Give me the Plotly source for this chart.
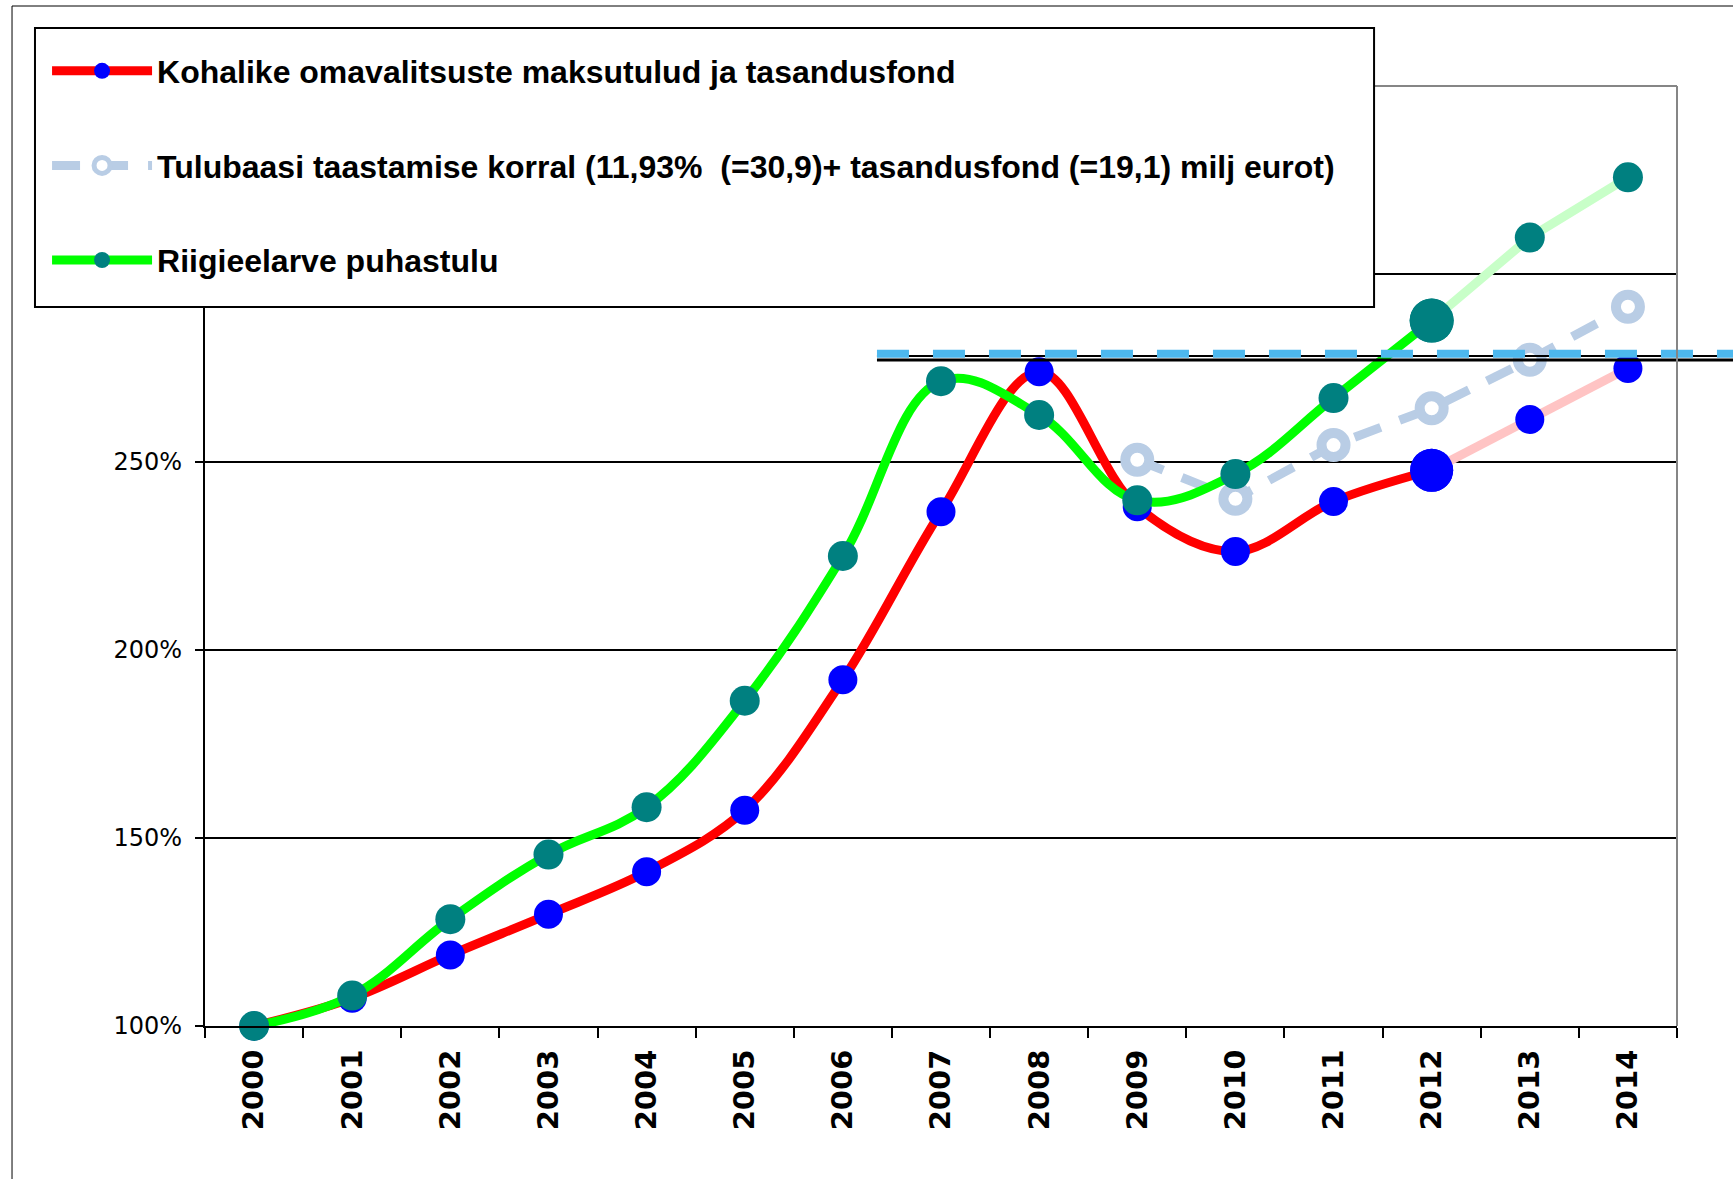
import plotly.graph_objects as go

# ---------------- data ----------------
years = ["2000", "2001", "2002", "2003", "2004", "2005", "2006", "2007",
         "2008", "2009", "2010", "2011", "2012", "2013", "2014"]

kov_values = [100.0, 107.4, 118.9, 129.7, 141.0, 157.4, 192.1, 236.8,
              274.0, 238.1, 226.2, 239.5, 247.8, 261.3, 274.9]

riik_values = [100.0, 108.1, 128.4, 145.6, 158.2, 186.5, 225.0, 271.5,
               262.5, 239.8, 246.8, 267.0, 287.6, 309.7, 325.7]

tulubaas_years = ["2009", "2010", "2011", "2012", "2013", "2014"]
tulubaas_values = [250.6, 240.2, 254.5, 264.3, 277.2, 291.3]

reference_levels = [277.1, 278.2, 278.8]   # two black lines + dashed blue line

y_ticks = [100, 150, 200, 250, 300]
y_tick_labels = ["100%", "150%", "200%", "250%", ""]   # 300% is hidden behind the legend box

name_kov = "Kohalike omavalitsuste maksutulud ja tasandusfond"
name_tul = "Tulubaasi taastamise korral (11,93%  (=30,9)+ tasandusfond (=19,1) milj eurot)"
name_riik = "Riigieelarve puhastulu"

forecast_from = "2012"   # actual data end; later years are faded

# ---------------- styles ----------------
RED = "#FF0000"
PINK = "#FFC4C4"
BLUE = "#0000FF"
GREEN = "#00FF00"
LIGHTGREEN = "#C8FFC8"
TEAL = "#008080"
STEEL = "#B9CDE5"
SKY = "#4DB8EE"

LINE_W = 9
MARK = 29
BIG = 43

split = years.index(forecast_from)
sizes_actual = [BIG if y == forecast_from else MARK for y in years[:split + 1]]
sizes_fore = [BIG if y == forecast_from else MARK for y in years[split:]]

fig = go.Figure()

# red / blue series
fig.add_trace(go.Scatter(
    x=years[:split + 1], y=kov_values[:split + 1], name=name_kov,
    mode="lines+markers", legendgroup="kov", cliponaxis=False,
    line=dict(color=RED, width=LINE_W, shape="spline", smoothing=1.0),
    marker=dict(color=BLUE, size=sizes_actual, opacity=1, line=dict(width=0)),
))
fig.add_trace(go.Scatter(
    x=years[split:], y=kov_values[split:], name=name_kov,
    mode="lines+markers", legendgroup="kov", showlegend=False, cliponaxis=False,
    line=dict(color=PINK, width=LINE_W),
    marker=dict(color=BLUE, size=sizes_fore, opacity=1, line=dict(width=0)),
))

# light steel blue dashed series
fig.add_trace(go.Scatter(
    x=tulubaas_years, y=tulubaas_values, name=name_tul,
    mode="lines+markers", legendgroup="tul", cliponaxis=False,
    line=dict(color=STEEL, width=LINE_W, dash="28px,20px"),
    marker=dict(color="white", size=24, opacity=1, line=dict(color=STEEL, width=10)),
))

# green / teal series
fig.add_trace(go.Scatter(
    x=years[:split + 1], y=riik_values[:split + 1], name=name_riik,
    mode="lines+markers", legendgroup="riik", cliponaxis=False,
    line=dict(color=GREEN, width=LINE_W, shape="spline", smoothing=1.1),
    marker=dict(color=TEAL, size=[s + 1 for s in sizes_actual], opacity=1, line=dict(width=0)),
))
fig.add_trace(go.Scatter(
    x=years[split:], y=riik_values[split:], name=name_riik,
    mode="lines+markers", legendgroup="riik", showlegend=False, cliponaxis=False,
    line=dict(color=LIGHTGREEN, width=LINE_W),
    marker=dict(color=TEAL, size=[s + 1 for s in sizes_fore], opacity=1, line=dict(width=0)),
))

# ---------------- shapes ----------------
shapes = []
# reference lines (start at ~2006.35, run to right edge of picture)
ref_x0, ref_x1 = 0.4565, 1.04
shapes.append(dict(type="line", xref="paper", yref="y", x0=ref_x0, x1=ref_x1,
                   y0=reference_levels[0], y1=reference_levels[0],
                   line=dict(color="black", width=3), layer="above"))
shapes.append(dict(type="line", xref="paper", yref="y", x0=ref_x0, x1=ref_x1,
                   y0=reference_levels[1], y1=reference_levels[1],
                   line=dict(color="black", width=2), layer="above"))
shapes.append(dict(type="line", xref="paper", yref="y", x0=ref_x0, x1=ref_x1,
                   y0=reference_levels[2], y1=reference_levels[2],
                   line=dict(color=SKY, width=8, dash="32px,24px"), layer="above"))
# plot frame right/top (grey)
shapes.append(dict(type="line", xref="paper", yref="paper", x0=1, x1=1, y0=0, y1=1,
                   line=dict(color="#868686", width=2), layer="above"))
shapes.append(dict(type="line", xref="paper", yref="paper", x0=0, x1=1, y0=1, y1=1,
                   line=dict(color="#868686", width=2), layer="above"))
# outer slide frame (top + left)
shapes.append(dict(type="line", xref="paper", yref="paper", x0=-0.1311, x1=1.05,
                   y0=1.0851, y1=1.0851, line=dict(color="black", width=1), layer="above"))
shapes.append(dict(type="line", xref="paper", yref="paper", x0=-0.1311, x1=-0.1311,
                   y0=1.0851, y1=-0.17, line=dict(color="black", width=1), layer="above"))
# legend frame (opaque white box)
shapes.append(dict(type="rect", xref="paper", yref="paper",
                   x0=-0.1155, x1=0.7942, y0=0.7648, y1=1.0617,
                   fillcolor="white", line=dict(color="black", width=2), layer="above"))

fig.update_layout(
    width=1733, height=1179, autosize=False,
    margin=dict(l=205, r=56, t=86, b=153),
    paper_bgcolor="white", plot_bgcolor="white",
    shapes=shapes,
    showlegend=True,
    legend=dict(
        x=-0.1073, y=1.0452, xanchor="left", yanchor="top",
        bgcolor="rgba(0,0,0,0)", borderwidth=0,
        font=dict(family="Liberation Sans, Arial", size=32, color="black", weight="bold"),
        itemwidth=100, tracegroupgap=50, traceorder="grouped",
        itemsizing="trace",
    ),
    xaxis=dict(
        type="category", range=[-0.5, 14.5], categoryorder="array", categoryarray=years,
        showline=True, linecolor="black", linewidth=2,
        ticks="outside", tickson="boundaries", ticklen=10, tickwidth=2, tickcolor="black",
        tickangle=-90, ticklabelstandoff=10,
        tickfont=dict(family="DejaVu Sans", size=29, color="black", weight="bold"),
        showgrid=False, zeroline=False,
    ),
    yaxis=dict(
        range=[100, 350], tickmode="array", tickvals=y_ticks, ticktext=y_tick_labels,
        showline=True, linecolor="black", linewidth=2,
        ticks="outside", ticklen=8, tickwidth=2, tickcolor="black",
        ticklabelstandoff=8,
        tickfont=dict(family="DejaVu Sans", size=24, color="black"),
        showgrid=True, gridcolor="black", gridwidth=2, zeroline=False,
    ),
)

fig.write_html("out.html", config={"displayModeBar": False},
               post_script="document.body.style.margin='0';document.body.style.overflow='hidden';")
